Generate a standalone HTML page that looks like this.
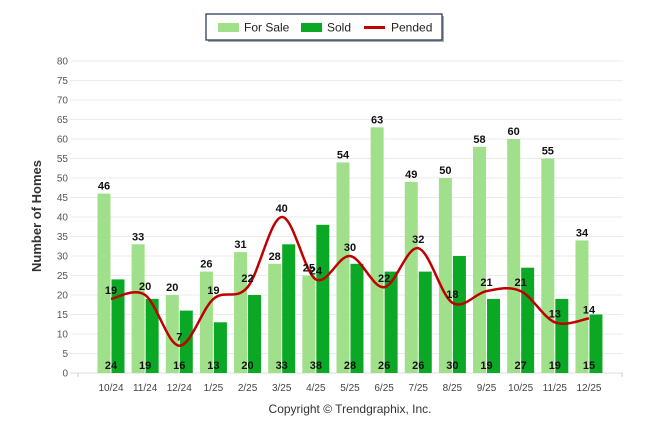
<!DOCTYPE html>
<html><head><meta charset="utf-8"><style>
body{margin:0;background:#fff;font-family:"Liberation Sans",sans-serif}
svg text{font-family:"Liberation Sans",sans-serif}
</style></head><body>
<svg width="646" height="434" viewBox="0 0 646 434">
<g>
<rect x="208" y="16" width="236" height="26" fill="#555" opacity="0.5"/>
<rect x="206" y="14" width="236" height="26" fill="#fff" stroke="#1f3050" stroke-width="1.2"/>
<rect x="218" y="23" width="21" height="9" fill="#a0e08a"/>
<text x="244" y="31.5" font-size="12" fill="#222">For Sale</text>
<rect x="301" y="23" width="21" height="9" fill="#0aa824"/>
<text x="327" y="31.5" font-size="12" fill="#222">Sold</text>
<rect x="364" y="26" width="21" height="3" fill="#c00000"/>
<text x="391" y="31.5" font-size="12" fill="#222">Pended</text>
</g>
<g id="grid"></g><g id="bars"></g><g id="line"></g><g id="labels"></g>
<text transform="translate(41,216) rotate(-90)" text-anchor="middle" font-size="13" font-weight="bold" fill="#333">Number of Homes</text>
<text x="350" y="413" text-anchor="middle" font-size="12" fill="#333">Copyright © Trendgraphix, Inc.</text>
</svg>
<script>
const categories=["10/24","11/24","12/24","1/25","2/25","3/25","4/25","5/25","6/25","7/25","8/25","9/25","10/25","11/25","12/25"];
const forSale=[46,33,20,26,31,28,25,54,63,49,50,58,60,55,34];
const sold=[24,19,16,13,20,33,38,28,26,26,30,19,27,19,15];
const pended=[19,20,7,19,22,40,24,30,22,32,18,21,21,13,14];
const yTicks=[0,5,10,15,20,25,30,35,40,45,50,55,60,65,70,75,80];
const NS="http://www.w3.org/2000/svg";
const y=v=>373-v*3.9;
const x=i=>111+i*34.14;
function mk(tag,attrs,parent,txt){const e=document.createElementNS(NS,tag);for(const k in attrs)e.setAttribute(k,attrs[k]);if(txt!==undefined)e.textContent=txt;document.getElementById(parent).appendChild(e);return e;}
yTicks.forEach(t=>{
 const l=mk('line',{x1:70,x2:623,y1:y(t),y2:y(t),stroke:t===0?'#ddd':'#ebebeb','stroke-width':1},'grid');
 
 
 const tx=mk('text',{x:68,y:y(t)+3.5,'text-anchor':'end','font-size':10,fill:'#555'},'grid',t);
 
 
});
mk('line',{x1:78,x2:78,y1:373,y2:377,stroke:'#ccc'},'grid');
mk('line',{x1:622,x2:622,y1:373,y2:377,stroke:'#ccc'},'grid');
categories.forEach((c,i)=>{
 const cx=x(i);
 const a=mk('rect',{x:cx-13.5,y:y(forSale[i]),width:13,height:forSale[i]*3.9,fill:'#a0e08a'},'bars');
 
 
 const b=mk('rect',{x:cx+0.5,y:y(sold[i]),width:13,height:sold[i]*3.9,fill:'#0aa824'},'bars');
 
 
 const xl=mk('text',{x:cx,y:391,'text-anchor':'middle','font-size':10,fill:'#444'},'labels',c);
 
 
 const fl=mk('text',{x:cx-7,y:y(forSale[i])-4,'text-anchor':'middle','font-size':11,'font-weight':'bold',fill:'#111'},'labels',forSale[i]);
 
 
 const sl=mk('text',{x:cx,y:369,'text-anchor':'middle','font-size':11,'font-weight':'bold',fill:'#111'},'labels',sold[i]);
 
 
 const pl=mk('text',{x:cx,y:y(pended[i])-5,'text-anchor':'middle','font-size':11,'font-weight':'bold',fill:'#111'},'labels',pended[i]);
 
 
});
const pts=pended.map((v,i)=>[x(i),y(v)]);
let d='M'+pts[0][0]+','+pts[0][1];
for(let i=0;i<pts.length-1;i++){
 const p0=pts[Math.max(0,i-1)],p1=pts[i],p2=pts[i+1],p3=pts[Math.min(pts.length-1,i+2)];
 const t=6;
 d+=` C${p1[0]+(p2[0]-p0[0])/t},${p1[1]+(p2[1]-p0[1])/t} ${p2[0]-(p3[0]-p1[0])/t},${p2[1]-(p3[1]-p1[1])/t} ${p2[0]},${p2[1]}`;
}
const pl=mk('path',{d:d,fill:'none',stroke:'#c00000','stroke-width':2.5},'line');


</script>
</body></html>
